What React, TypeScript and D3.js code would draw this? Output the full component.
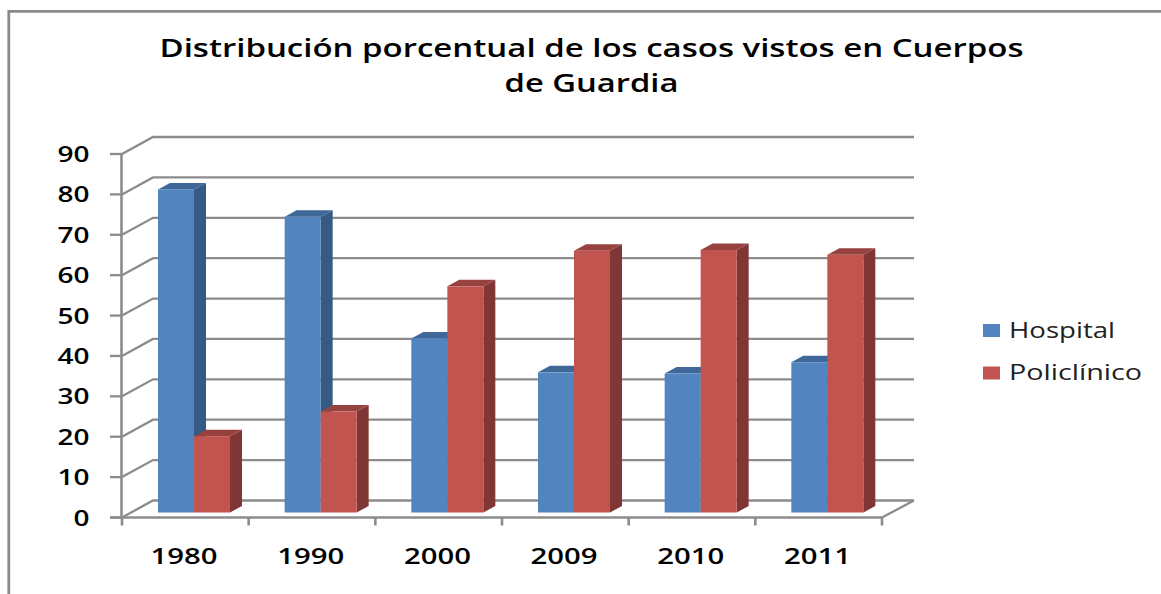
import React from 'react';
import * as d3 from 'd3';

const categories = ['1980', '1990', '2000', '2009', '2010', '2011'];
const hospital = [80, 73.2, 43.1, 34.7, 34.4, 37.2];
const policlinico = [18.9, 25, 56, 64.8, 65, 63.8];
const yTicks = [0, 10, 20, 30, 40, 50, 60, 70, 80, 90];
const seriesNames = ['Hospital', 'Policlínico'];
const titleLines = ['Distribución porcentual de los casos vistos en Cuerpos', 'de Guardia'];

const FONT = '"Open Sans", "DejaVu Sans", sans-serif';
const GRID = '#8c8c8c';
const fronts = ['#5284C0', '#C25450'];
const tops = ['#3F6797', '#984240'];
const sides = ['#355A84', '#7F3634'];

// widths the stretched labels take up in the picture
const titleWidths = [864, 174];
const legendWidths = [106, 133];

// 3D offsets of the back wall and of the bars
const wallDx = 31;
const wallDy = -17;
const barInsetDy = -5;
const barDepthDx = 12;
const barDepthDy = -6.5;

const x = d3.scaleBand<string>().domain(categories).range([122, 882]);
const y = d3.scaleLinear().domain([0, 90]).range([517.5, 154]);
const barW = 36;
const barStart = 36;

const App = () => {
  const line = d3.line();

  const bar = (v: number, cat: string, s: number) => {
    const x0 = (x(cat) as number) + barStart + s * barW;
    const x1 = x0 + barW;
    const yB = y(0) + barInsetDy;
    const yT = y(v) + barInsetDy;
    const top = line([[x0, yT], [x0 + barDepthDx, yT + barDepthDy], [x1 + barDepthDx, yT + barDepthDy], [x1, yT]]) + 'Z';
    const side = line([[x1, yT], [x1 + barDepthDx, yT + barDepthDy], [x1 + barDepthDx, yB + barDepthDy], [x1, yB]]) + 'Z';
    return (
      <g key={`${cat}-${s}`}>
        <path d={side} fill={sides[s]} />
        <path d={top} fill={tops[s]} />
        <rect x={x0} y={yT} width={barW} height={yB - yT} fill={fronts[s]} />
      </g>
    );
  };

  const tickXs = [...categories.map((c) => x(c) as number), 882];

  return (
    <svg width={1161} height={594} style={{ position: 'absolute', left: 0, top: 0 }}>
      <path d="M8.8,594V11.3H1161" fill="none" stroke="#8a8a8a" strokeWidth={2.8} />

      {titleLines.map((t, i) => (
        <text key={t} x={591.5} y={i === 0 ? 57 : 92} textAnchor="middle" fontFamily={FONT} fontWeight={600} fontSize={25} fill="#000" textLength={titleWidths[i]} lengthAdjust="spacingAndGlyphs">
          {t}
        </text>
      ))}

      {/* back wall gridlines and their diagonals on the side wall */}
      {yTicks.map((t) => (
        <g key={t} stroke={GRID} strokeWidth={2.3} fill="none">
          <path d={line([[122, y(t)], [122 + wallDx, y(t) + wallDy], [914, y(t) + wallDy]]) as string} />
          <line x1={110} x2={122} y1={y(t)} y2={y(t)} />
        </g>
      ))}

      {/* floor */}
      <path d={line([[882, y(0)], [914, y(0) + wallDy]]) as string} stroke={GRID} strokeWidth={2.3} fill="none" />

      {/* axes */}
      <line x1={121.5} x2={121.5} y1={y(90)} y2={y(0)} stroke={GRID} strokeWidth={2.6} />
      <line x1={110} x2={882} y1={y(0)} y2={y(0)} stroke={GRID} strokeWidth={2.6} />
      {tickXs.map((tx) => (
        <line key={tx} x1={tx} x2={tx} y1={y(0)} y2={y(0) + 8} stroke={GRID} strokeWidth={2.6} />
      ))}

      {categories.map((c, i) => bar(hospital[i], c, 0))}
      {categories.map((c, i) => bar(policlinico[i], c, 1))}

      {yTicks.map((t) => (
        <text key={t} x={89.5} y={y(t) + 8} textAnchor="end" fontFamily={FONT} fontWeight={600} fontSize={21} fill="#000" textLength={t === 0 ? 16 : 32} lengthAdjust="spacingAndGlyphs">
          {t}
        </text>
      ))}
      {categories.map((c) => (
        <text key={c} x={(x(c) as number) + x.bandwidth() / 2 - 1.2} y={564} textAnchor="middle" fontFamily={FONT} fontWeight={600} fontSize={22} fill="#000" textLength={67} lengthAdjust="spacingAndGlyphs">
          {c}
        </text>
      ))}

      {seriesNames.map((n, i) => (
        <g key={n}>
          <rect x={983} y={324 + i * 42.5} width={17} height={13} fill={fronts[i]} />
          <text x={1009} y={337.5 + i * 42.5} fontFamily={FONT} fontSize={22} fill="#222" textLength={legendWidths[i]} lengthAdjust="spacingAndGlyphs">
            {n}
          </text>
        </g>
      ))}
    </svg>
  );
};

export default App;
